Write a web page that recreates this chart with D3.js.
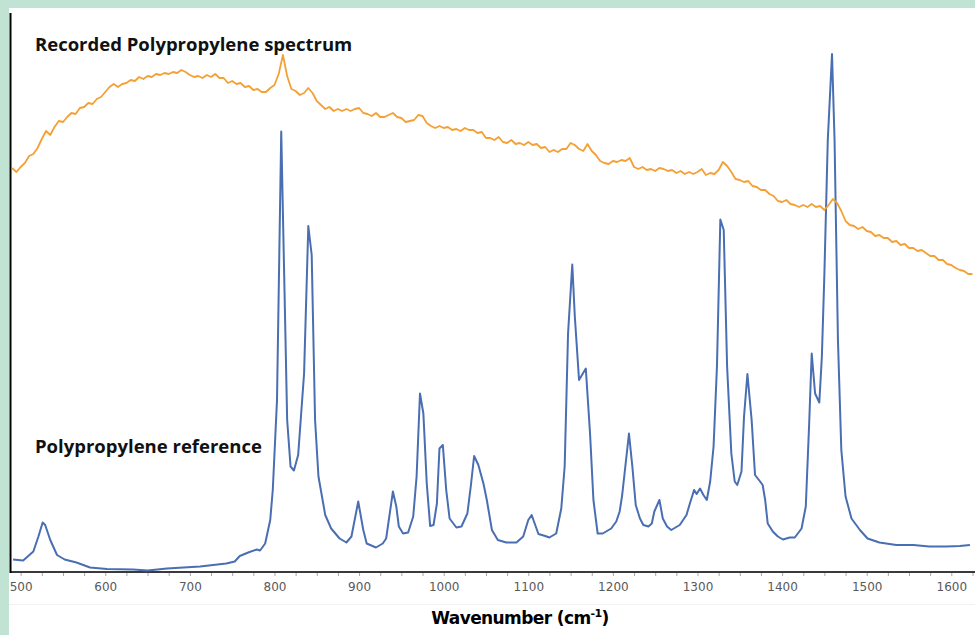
<!DOCTYPE html>
<html>
<head>
<meta charset="utf-8">
<script src="https://cdn.jsdelivr.net/npm/d3@7/dist/d3.min.js"></script>
<style>
  html, body { margin: 0; padding: 0; background: #c0e3d3; }
  svg { display: block; }
</style>
</head>
<body>
<svg id="chart" width="975" height="635"></svg>
<script>
// Polypropylene reference spectrum (wavenumber in cm-1, relative intensity)
const referenceWavenumbers = [
  491,503,515,521,526,529,535,543,552,566,
  582,602,633,650,673,712,743,753,759,769,
  779,783,789,795,798,803,808,815,819,823,
  828,835,840,844,848,852,860,867,877,885,
  891,899,905,909,920,928,932,940,944,947,
  952,958,964,968,972,976,980,984,988,992,
  995,999,1003,1007,1015,1021,1028,1032,1036,1041,
  1047,1051,1057,1064,1074,1086,1094,1100,1104,1112,
  1120,1125,1133,1139,1143,1147,1152,1155,1160,1168,
  1173,1177,1182,1188,1198,1204,1208,1211,1219,1223,
  1227,1232,1236,1242,1246,1249,1255,1259,1264,1269,
  1279,1287,1291,1296,1299,1303,1307,1311,1315,1319,
  1323,1327,1331,1335,1340,1344,1347,1352,1355,1359,
  1364,1368,1374,1377,1380,1383,1389,1395,1401,1409,
  1415,1423,1428,1432,1435,1439,1444,1447,1450,1454,
  1459,1462,1466,1470,1475,1482,1492,1501,1515,1535,
  1555,1574,1594,1610,1622
];
const referenceIntensity = [
  25,23,41,71,99,94,64,34,25,19,
  9,6,5,3,7,11,17,21,32,39,
  45,43,57,104,164,344,881,304,211,203,
  234,397,692,634,304,191,114,87,67,59,
  71,141,84,57,49,57,67,161,131,91,
  77,79,111,191,357,317,177,92,94,137,
  247,254,164,107,89,91,117,171,232,214,
  177,144,84,64,59,59,71,104,114,76,
  72,69,77,127,211,477,615,511,384,407,
  277,144,77,77,87,101,121,154,277,211,
  134,107,94,91,97,121,144,107,91,84,
  94,114,137,164,156,167,154,144,181,251,
  411,705,684,411,237,181,174,201,311,396,
  304,194,181,174,144,97,81,71,65,69,
  69,87,131,297,437,357,339,431,597,864,
  1036,864,464,244,151,107,84,67,59,54,
  54,51,51,52,54
];

// Recorded spectrum, sampled every 5 cm-1 starting at 490 cm-1
const recordedStart = 490;
const recordedStep = 5;
const recordedIntensity = [
  808,800,810,818,832,836,848,866,882,874,
  890,902,900,910,918,916,928,930,938,936,
  946,950,960,970,976,970,976,978,984,982,
  990,986,992,990,996,994,998,996,1000,998,
  1004,1000,994,990,992,988,994,990,996,988,
  988,978,982,976,978,970,972,964,966,960,
  960,968,974,996,1034,992,966,962,954,958,
  968,958,942,934,926,930,922,926,922,926,
  922,926,928,918,916,912,918,910,910,914,
  918,910,908,900,902,904,914,912,898,892,
  888,892,888,890,884,886,882,888,884,884,
  878,880,868,868,864,870,860,858,864,856,
  858,854,860,854,856,848,850,840,844,840,
  846,846,858,854,846,842,856,842,834,822,
  818,816,822,820,824,822,828,810,806,810,
  804,806,802,808,806,802,804,798,802,796,
  800,796,800,806,794,798,796,804,820,812,
  800,786,784,780,782,772,770,764,764,756,
  752,742,740,744,736,734,730,734,730,736,
  730,732,724,734,746,738,722,702,694,692,
  686,690,682,680,672,674,668,668,660,662,
  654,656,648,648,642,644,638,632,632,624,
  624,616,614,608,604,602,596,596
];

const tickLabels = [500, 600, 700, 800, 900, 1000, 1100, 1200, 1300, 1400, 1500, 1600];
const minorTickValues = d3.range(500, 1626, 25);

const axisTitle = "Wavenumber (cm";
const axisTitleSup = "-1";
const recordedLabel = "Recorded Polypropylene spectrum";
const referenceLabel = "Polypropylene reference";

const W = 975, H = 635;
const svg = d3.select("#chart");

// panel
svg.append("rect").attr("x", 0).attr("y", 0).attr("width", W).attr("height", H).attr("fill", "#c0e3d3");
svg.append("rect").attr("x", 9).attr("y", 8).attr("width", W - 9).attr("height", H - 8).attr("fill", "#ffffff");

const x = d3.scaleLinear().domain([488, 1628]).range([10.5, 975]);
const y = d3.scaleLinear().domain([0, 1118]).range([572, 13]);

const reference = referenceWavenumbers.map((w, i) => ({ w, v: referenceIntensity[i] }));
const recorded = recordedIntensity.map((v, i) => ({ w: recordedStart + i * recordedStep, v }));

const line = d3.line().x(d => x(d.w)).y(d => y(d.v));

// faint separator under the tick labels
svg.append("line")
  .attr("x1", 9).attr("x2", W).attr("y1", 604.5).attr("y2", 604.5)
  .attr("stroke", "#f2f2f2").attr("stroke-width", 1);

// minor tick marks
const minorAxis = d3.axisBottom(x).tickValues(minorTickValues).tickSize(4).tickFormat("");
const gMinor = svg.append("g").attr("transform", "translate(0,572)").call(minorAxis);
gMinor.select(".domain").remove();
gMinor.selectAll(".tick line").attr("stroke", "#a6a6a6").attr("stroke-width", 1);

// labelled axis
const axis = d3.axisBottom(x).tickValues(tickLabels).tickSize(0).tickPadding(10).tickFormat(d3.format("d"));
const gAxis = svg.append("g").attr("transform", "translate(0,572)").call(axis);
gAxis.select(".domain").remove();
gAxis.selectAll(".tick text")
  .attr("fill", "#595959")
  .attr("font-family", "DejaVu Sans, Verdana, sans-serif")
  .attr("font-size", 12);

// axis lines
svg.append("line")
  .attr("x1", 10).attr("x2", W).attr("y1", 572).attr("y2", 572)
  .attr("stroke", "#3a3a3a").attr("stroke-width", 2);
svg.append("line")
  .attr("x1", 10.5).attr("x2", 10.5).attr("y1", 13).attr("y2", 573)
  .attr("stroke", "#000000").attr("stroke-width", 2);

// spectra
svg.append("path").datum(reference)
  .attr("d", line)
  .attr("fill", "none")
  .attr("stroke", "#4a6eb2")
  .attr("stroke-width", 2)
  .attr("stroke-linejoin", "round");

svg.append("path").datum(recorded)
  .attr("d", line)
  .attr("fill", "none")
  .attr("stroke", "#f4a035")
  .attr("stroke-width", 1.8)
  .attr("stroke-linejoin", "round");

// labels
svg.append("text")
  .attr("x", 35).attr("y", 51)
  .attr("font-family", "Open Sans, sans-serif")
  .attr("font-weight", 700)
  .attr("font-size", 18.5)
  .attr("fill", "#111")
  .text(recordedLabel);

svg.append("text")
  .attr("x", 35).attr("y", 453)
  .attr("font-family", "Open Sans, sans-serif")
  .attr("font-weight", 700)
  .attr("font-size", 18.5)
  .attr("fill", "#111")
  .text(referenceLabel);

const title = svg.append("text")
  .attr("x", 520).attr("y", 624)
  .attr("text-anchor", "middle")
  .attr("font-family", "DejaVu Sans, Verdana, sans-serif")
  .attr("font-weight", "bold")
  .attr("font-size", 17)
  .attr("letter-spacing", -0.6)
  .attr("fill", "#000");
title.append("tspan").text(axisTitle);
title.append("tspan").attr("font-size", 11).attr("dy", -7).text(axisTitleSup);
title.append("tspan").attr("dy", 7).text(")");
</script>
</body>
</html>
